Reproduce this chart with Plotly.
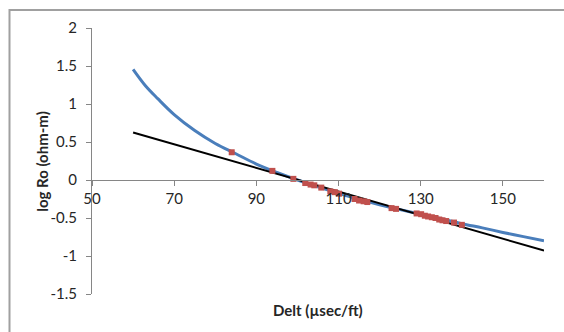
import plotly.graph_objects as go

# Fitted curve (log Ro vs. Delt)
curve_x = [60, 63, 66, 70, 75, 80, 85, 90, 95, 100, 105, 110, 115, 120,
           125, 130, 135, 140, 145, 150, 155, 160]
curve_y = [1.455, 1.24, 1.07, 0.86, 0.65, 0.48, 0.345, 0.21, 0.10, 0.0,
           -0.09, -0.175, -0.255, -0.325, -0.39, -0.45, -0.51, -0.575,
           -0.63, -0.69, -0.745, -0.80]

# Straight-line trend
trend_x = [60, 160]
trend_y = [0.626, -0.928]

# Measured samples
obs_x = [84.0, 93.9, 99.0, 101.9, 103.2, 104.1, 105.8, 108.0, 109.1, 110.1,
         113.9, 115.0, 116.1, 117.0, 122.9, 124.0, 129.0, 130.1, 131.0,
         131.8, 132.7, 133.6, 134.5, 135.3, 136.2, 138.1, 140.0]
obs_y = [0.365, 0.12, 0.015, -0.04, -0.06, -0.07, -0.10, -0.15, -0.16, -0.18,
         -0.25, -0.27, -0.28, -0.29, -0.37, -0.38, -0.44, -0.45, -0.47,
         -0.48, -0.49, -0.50, -0.52, -0.53, -0.54, -0.56, -0.59]

x_ticks = [50, 70, 90, 110, 130, 150]
y_ticks = [-1.5, -1, -0.5, 0, 0.5, 1, 1.5, 2]
y_tick_text = ["-1.5", "-1", "-0.5", "0", "0.5", "1", "1.5", "2"]

FONT = "Lato, 'Open Sans', sans-serif"
AXIS_GREY = "#868686"
TEXT = "#262626"

fig = go.Figure()
fig.add_trace(go.Scatter(x=curve_x, y=curve_y, mode="lines",
                         line=dict(color="#4a7ebb", width=3, shape="spline"),
                         hoverinfo="skip"))
fig.add_trace(go.Scatter(x=trend_x, y=trend_y, mode="lines",
                         line=dict(color="#000000", width=2),
                         hoverinfo="skip"))
fig.add_trace(go.Scatter(x=obs_x, y=obs_y, mode="markers",
                         marker=dict(symbol="square", size=6, color="#c0504d",
                                     line=dict(width=0))))

y_min, y_max = -1.5, 2
zero_pos = (0 - y_min) / (y_max - y_min)

fig.update_layout(
    width=564, height=332,
    margin=dict(l=92, r=20, t=28, b=38),
    paper_bgcolor="white", plot_bgcolor="white",
    showlegend=False,
    font=dict(family=FONT, size=15, color=TEXT),
    xaxis=dict(range=[50, 160], tickvals=x_ticks, ticks="outside", ticklen=5,
               tickcolor=AXIS_GREY, showline=True, linecolor=AXIS_GREY,
               linewidth=1, showgrid=False, zeroline=False,
               anchor="free", position=zero_pos),
    yaxis=dict(range=[y_min, y_max], tickvals=y_ticks, ticktext=y_tick_text,
               ticks="outside", ticklen=5, tickcolor=AXIS_GREY, showline=True,
               linecolor=AXIS_GREY, linewidth=1, showgrid=False,
               zeroline=False, ticklabelstandoff=6),
    annotations=[
        dict(text="<b>Delt (µsec/ft)</b>", xref="paper", yref="paper",
             x=0.5, y=-0.02, xanchor="center", yanchor="top",
             showarrow=False, font=dict(size=15, color=TEXT)),
        dict(text="<b>log Ro (ohm-m)</b>", xref="paper", yref="paper",
             x=-0.111, y=0.5, xanchor="center", yanchor="middle",
             textangle=-90, showarrow=False,
             font=dict(size=15, color=TEXT)),
    ],
    shapes=[
        dict(type="rect", xref="paper", yref="paper",
             x0=(9.5 - 92) / 452, x1=1.2, y0=-0.3, y1=1 + (28 - 10) / 266,
             line=dict(color="#a0a0a0", width=2), layer="below"),
    ],
)

fig.write_html("out.html")
